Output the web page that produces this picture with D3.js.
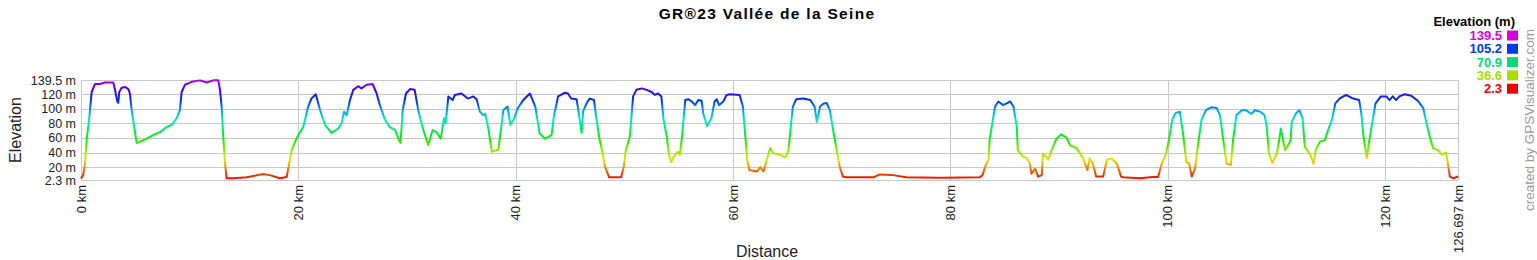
<!DOCTYPE html>
<html>
<head>
<meta charset="utf-8">
<script src="https://cdn.jsdelivr.net/npm/d3@7"></script>
<style>
  body { margin: 0; background: #fff; }
  text { font-family: Arial, "Liberation Sans", sans-serif; }
</style>
</head>
<body>
<svg id="chart" width="1537" height="260"></svg>
<script>
// profile: distance (km) and elevation (m)
var distKm = [0, 0.2, 0.37, 0.52, 0.77, 0.98, 1.29, 1.75, 2.2, 2.97, 3.13, 3.34, 3.43, 3.52, 3.74, 4.05, 4.35, 4.5, 4.66, 4.9, 5.12, 5.43, 6.04, 6.65, 7.27, 7.88, 8.34, 8.8, 9.1, 9.26, 9.57, 10.18, 10.95, 11.56, 12.17, 12.63, 12.79, 12.94, 13.09, 13.25, 13.4, 14.0, 15.24, 16.77, 17.39, 18.3, 18.92, 19.07, 19.38, 19.7,
  20.0, 20.45, 20.9, 21.2, 21.6, 22.0, 22.45, 23.06, 23.67, 23.98, 24.2, 24.44, 24.75, 25.05, 25.5, 25.8, 26.28, 26.83, 27.2, 27.5, 27.97, 28.4, 28.9, 29.2, 29.4, 29.6, 29.9, 30.27, 30.7, 31.03, 31.5, 31.95, 32.35, 32.7, 33.1, 33.4, 33.55, 33.8, 34.2, 34.4, 35.0, 35.6, 36.1, 36.4, 36.7, 37.0, 37.2, 37.5, 37.8, 38.4, 38.7, 38.85, 39.25, 39.5, 39.8,
  40.2, 40.7, 41.3, 41.8, 42.2, 42.7, 43.3, 43.5, 43.9, 44.5, 44.8, 45.1, 45.6, 45.8, 46.06, 46.2, 46.5, 46.8, 47.2, 47.4, 47.7, 48.0, 48.2, 48.6, 49.7, 49.95, 50.1, 50.5, 50.8, 51.1, 51.6, 52.05, 52.5, 52.8, 53.1, 53.4, 53.6, 53.9, 54.1, 54.3, 54.65, 54.95, 55.1, 55.3, 55.6, 55.9, 56.2, 56.5, 56.8, 57.1, 57.25, 57.6, 58.0, 58.3, 58.5, 58.7, 59.1, 59.4, 59.7,
  60.6, 60.9, 61.1, 61.3, 61.5, 62.2, 62.5, 62.8, 63.1, 63.4, 63.7, 64.3, 64.8, 65.1, 65.3, 65.5, 65.8, 66.45, 67.1, 67.5, 67.7, 68.0, 68.3, 68.6, 68.9, 69.2, 69.5, 69.8, 70.1, 70.4, 71.7, 72.9, 73.5, 74.7, 75.96, 79.0,
  82.7, 82.95, 83.2, 83.5, 83.6, 83.9, 84.1, 84.4, 84.85, 85.5, 85.8, 86.1, 86.2, 86.7, 87.0, 87.3, 87.45, 87.8, 88.06, 88.4, 88.5, 88.8, 89.0, 89.3, 89.75, 90.2, 90.7, 91.0, 91.6, 92.2, 92.6, 92.8, 93.1, 93.4, 94.05, 94.4, 94.8, 95.3, 95.7, 95.9, 97.4, 98.6, 99.1, 99.4, 99.8,
  100.1, 100.4, 100.7, 101.1, 101.4, 101.7, 101.96, 102.2, 102.5, 102.8, 103.1, 103.5, 104.0, 104.5, 104.8, 105.1, 105.4, 105.8, 106.0, 106.3, 106.8, 107.2, 107.7, 108.0, 108.5, 108.9, 109.1, 109.3, 109.6, 110.0, 110.2, 110.4, 110.6, 110.8, 111.0, 111.3, 111.4, 111.8, 112.1, 112.4, 112.6, 113.1, 113.4, 113.6, 114.0, 114.45, 114.75, 115.1, 115.4, 115.8, 116.4, 117.05, 117.6, 117.8, 118.0, 118.3, 118.5, 118.8, 119.1, 119.6,
  120.1, 120.4, 120.7, 121.0, 121.3, 121.8, 122.4, 123.0, 123.5, 123.8, 124.1, 124.4, 124.9, 125.2, 125.6, 125.8, 125.95, 126.3, 126.6, 126.697];
var elevM = [4.6, 9, 25, 57, 89, 123, 134, 134, 136, 136, 126, 110, 108, 123, 129, 130, 127, 121, 98, 75, 53, 55, 59, 64, 68, 75, 78, 87, 98, 123, 133, 137, 139, 136, 139, 139, 126, 103, 62, 25, 4.6, 4.6, 6, 10.5, 9, 4.6, 6.5, 18, 43, 55,
  64, 75, 103, 114, 120, 98, 78, 67, 73, 80, 96, 91, 112, 126, 131, 128, 133, 134, 121, 105, 85, 75, 71, 59, 53, 98, 121, 127, 126, 98, 71, 50, 71, 68, 59, 87, 80, 117, 112, 119, 121, 114, 117, 113, 96, 91, 93, 71, 41, 44, 78, 98, 103, 78, 85,
  101, 112, 121, 103, 66, 59, 64, 89, 117, 122, 121, 114, 113, 94, 67, 96, 107, 114, 112, 89, 59, 39, 21, 6, 6, 21, 41, 62, 117, 126, 128, 126, 123, 119, 121, 117, 85, 62, 37, 27, 37, 41, 37, 62, 112, 113, 110, 105, 112, 111, 94, 76, 87, 110, 113, 105, 110, 119, 120,
  119, 103, 66, 30, 16, 14, 20, 14, 30, 46, 39, 37, 33, 43, 75, 103, 113, 114, 112, 103, 82, 103, 107, 108, 98, 71, 46, 21, 7, 6, 6, 6, 10, 9, 6, 5.5,
  6, 9, 21, 30, 57, 85, 103, 110, 105, 110, 103, 75, 43, 34, 33, 25, 11, 18, 7, 9, 37, 35, 30, 43, 59, 65, 60, 50, 46, 32, 16, 32, 25, 7, 7, 30, 32, 25, 7, 6, 4.6, 6.5, 6.5, 23, 37,
  57, 85, 94, 96, 66, 27, 25, 7, 18, 53, 85, 98, 102, 101, 91, 57, 25, 23, 57, 91, 98, 98, 93, 98, 96, 91, 75, 39, 26, 37, 53, 73, 57, 43, 48, 57, 82, 94, 98, 87, 48, 37, 25, 43, 55, 57, 71, 85, 107, 114, 119, 114, 112, 94, 62, 32, 53, 80, 107, 117,
  117, 112, 117, 112, 117, 120, 118, 111, 101, 80, 62, 46, 43, 37, 40, 21, 7, 4.6, 7, 6];

var yTicks = [2.3, 20, 40, 60, 80, 100, 120, 139.5];
var xTicks = [0, 20, 40, 60, 80, 100, 120, 126.697];
var legendValues = [139.5, 105.2, 70.9, 36.6, 2.3];
var legendColors = ["#dd00dd", "#0038ee", "#00dd77", "#aadd00", "#ee0000"];

var svg = d3.select("#chart");
var plotLeft = 81, plotRight = 1458, plotTop = 80, plotBottom = 180;

var x = d3.scaleLinear().domain([0, 126.697]).range([plotLeft, plotRight]);
var y = d3.scaleLinear().domain([2.3, 139.5]).range([plotBottom, plotTop]);

// grid
svg.append("g").selectAll("line").data(yTicks).enter().append("line")
    .attr("x1", plotLeft).attr("x2", plotRight)
    .attr("y1", function (d) { return Math.round(y(d)) + 0.5; })
    .attr("y2", function (d) { return Math.round(y(d)) + 0.5; })
    .attr("stroke", "#c8c8c8");
svg.append("g").selectAll("line").data(xTicks).enter().append("line")
    .attr("x1", function (d) { return Math.round(x(d)) + 0.5; })
    .attr("x2", function (d) { return Math.round(x(d)) + 0.5; })
    .attr("y1", plotTop).attr("y2", plotBottom)
    .attr("stroke", "#c8c8c8");

// y tick labels
svg.append("g").selectAll("text").data(yTicks).enter().append("text")
    .attr("x", 76).attr("y", function (d) { return y(d) + 4.5; })
    .attr("text-anchor", "end").style("font-size", "12.5px").style("fill", "#222")
    .text(function (d) { return d + " m"; });

// x tick labels, rotated
svg.append("g").selectAll("text").data(xTicks).enter().append("text")
    .attr("transform", function (d) { return "translate(" + (x(d) + 4.5) + ",185) rotate(-90)"; })
    .attr("text-anchor", "end").style("font-size", "13px").style("fill", "#222")
    .text(function (d) { return d + " km"; });

// colour by elevation
var defs = svg.append("defs");
var grad = defs.append("linearGradient").attr("id", "elevGrad")
    .attr("gradientUnits", "userSpaceOnUse")
    .attr("x1", 0).attr("x2", 0).attr("y1", y(2.3)).attr("y2", y(139.5));
d3.range(0, 11).forEach(function (i) {
    grad.append("stop").attr("offset", i / 10)
        .attr("stop-color", d3.hsl(285 * i / 10, 1, 0.46).toString());
});

var pts = distKm.map(function (d, i) { return [d, elevM[i]]; });
var line = d3.line().x(function (d) { return x(d[0]); }).y(function (d) { return y(d[1]); });
svg.append("path").datum(pts).attr("d", line)
    .attr("fill", "none").attr("stroke", "url(#elevGrad)").attr("stroke-width", 2)
    .attr("stroke-linejoin", "round");

// titles
svg.append("text").attr("x", 767).attr("y", 19).attr("text-anchor", "middle")
    .style("font-size", "15.5px").style("font-weight", "bold").style("letter-spacing", "1.3px")
    .text("GR®23 Vallée de la Seine");
svg.append("text").attr("transform", "translate(21,130) rotate(-90)").attr("text-anchor", "middle")
    .style("font-size", "16px").style("fill", "#222").text("Elevation");
svg.append("text").attr("x", 767).attr("y", 257).attr("text-anchor", "middle")
    .style("font-size", "16px").style("fill", "#222").text("Distance");

// legend
svg.append("text").attr("x", 1515).attr("y", 26).attr("text-anchor", "end")
    .style("font-size", "13px").style("font-weight", "bold").text("Elevation (m)");
var leg = svg.append("g").selectAll("g").data(legendValues).enter().append("g")
    .attr("transform", function (d, i) { return "translate(0," + (35.5 + i * 13.3) + ")"; });
leg.append("text").attr("x", 1502).attr("y", 4.5).attr("text-anchor", "end")
    .style("font-size", "13px").style("font-weight", "bold")
    .style("fill", function (d, i) { return legendColors[i]; })
    .text(function (d) { return d; });
leg.append("rect").attr("x", 1507).attr("y", -5).attr("width", 11).attr("height", 10)
    .attr("fill", function (d, i) { return legendColors[i]; });

// credit
svg.append("text").attr("transform", "translate(1534,211) rotate(-90)").attr("text-anchor", "start")
    .style("font-size", "13.5px").style("fill", "#999").text("created by GPSVisualizer.com");
</script>
</body>
</html>
